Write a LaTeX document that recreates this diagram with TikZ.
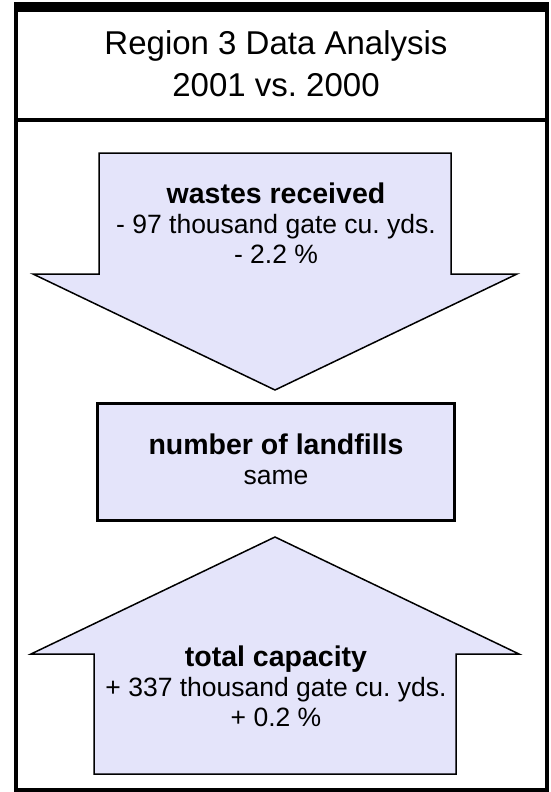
\documentclass[tikz,border=0pt]{standalone}
\usepackage{fontspec}
\setmainfont{Liberation Sans}
\frenchspacing
\definecolor{lavender}{RGB}{228,228,250}
\newcommand{\headline}[1]{{\fontsize{28.5}{30}\selectfont\bfseries #1}}
\tikzset{
    titletext/.style={align=center,inner sep=0pt,font=\fontsize{33}{42}\selectfont},
    shapetext/.style={align=center,inner sep=0pt,font=\fontsize{26.5}{30}\selectfont}
}

\begin{document}
\begin{tikzpicture}[x=1pt,y=-1pt]
        \useasboundingbox (0,0) rectangle (550,792);

        \begin{scope}[line width=4pt]
            \draw (16,7) rectangle (546.5,120);
            \draw (16,120) rectangle (546.5,790);
            \draw[line width=10pt] (14,7) -- (548.5,7);
        \end{scope}

        \begin{scope}[fill=lavender,draw=black,line join=miter]
            \filldraw[line width=1.5pt] (99,153) -- (451,153) -- (451,274) -- (517,274)
                -- (275,390) -- (33,274) -- (99,274) -- cycle;
            \filldraw[line width=3pt] (97,403) rectangle (454,520);
            \filldraw[line width=1.5pt] (275,537) -- (519,654) -- (456,654) -- (456,774)
                -- (94,774) -- (94,654) -- (31,654) -- cycle;
        \end{scope}

        \node[titletext] (title) at (276,64) {Region 3 Data Analysis\\2001 vs. 2000};
        \node[shapetext] (wastes) at (276,223) {\headline{wastes received}\\- 97 thousand gate cu. yds.\\- 2.2 \%};
        \node[shapetext] (landfills) at (276,459) {\headline{number of landfills}\\same};
        \node[shapetext] (capacity) at (276,686) {\headline{total capacity}\\+ 337 thousand gate cu. yds.\\+ 0.2 \%};
    \end{tikzpicture}
\end{document}
